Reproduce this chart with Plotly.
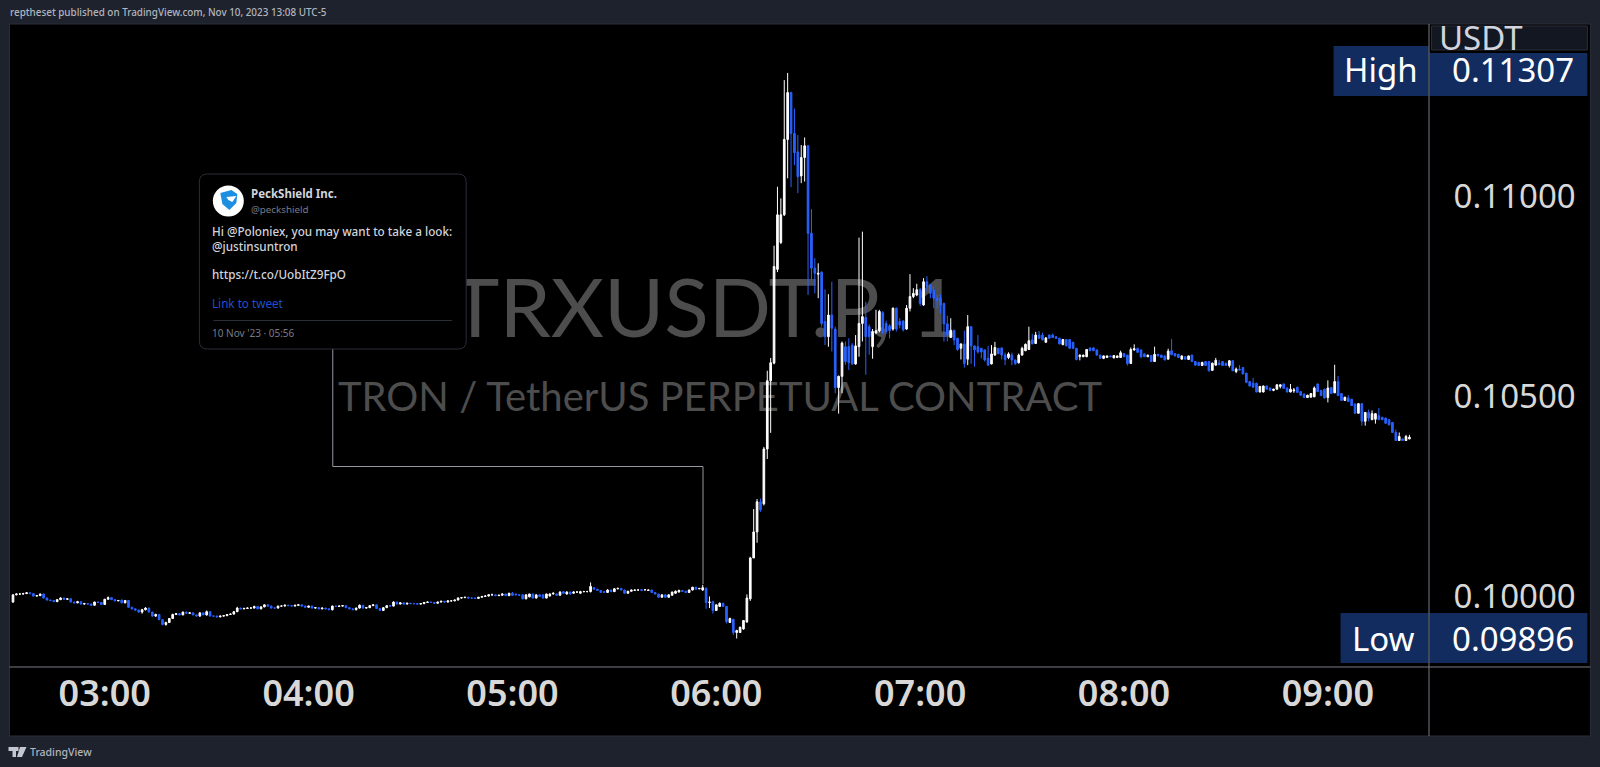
import numpy as np
import pandas as pd
import plotly.graph_objects as go

# one minute candles from TRXUSDT.P, prices in 1e-5 USDT
opens = [
    9987,10005,10007,10007,10008,10010,10008,10002,10003,10007,
    9997,9992,9991,9988,9993,9997,9994,9995,9987,
    9985,9988,9982,9983,9982,9979,9987,9986,9981,9994,
    9998,9993,9990,9992,9985,9991,9974,9970,9967,
    9962,9968,9972,9962,9952,9956,9943,9931,9936,9946,
    9956,9958,9955,9962,9959,9960,9955,9952,9960,9955,
    9963,9952,9952,9950,9952,9953,9956,9957,9963,9972,
    9970,9971,9972,9972,9976,9970,9975,9980,9977,9972,
    9972,9977,9977,9979,9978,9977,9979,9980,9977,9974,
    9977,9972,9973,9970,9972,9970,9968,9977,9976,
    9977,9978,9973,9970,9968,9972,9979,9972,9973,9978,
    9980,9971,9966,9973,9978,9977,9987,9982,9985,9982,
    9984,9983,9983,9982,9983,9986,9987,9986,9984,9987,
    9989,9987,9990,9990,9992,9997,9998,9999,9997,9997,
    9996,9999,10001,10002,10005,10005,10003,10004,
    10007,10003,10009,
    10007,10005,10005,9995,10000,10007,9997,10005,10005,9997,
    10002,10007,10007,10004,10013,10007,10012,10009,10012,10009,
    10013,10013,10013,10023,10019,10016,10013,10011,10017,10013,
    10020,10021,10017,10009,10014,10016,10017,10018,10018,10016,
    10017,10011,10007,9999,10005,9999,10004,10009,10012,10016,
    10014,10011,10017,10024,10020,10017,
    10021,9986,9988,9966,9976,9984,9976,9936,9944,9911,
    9911,9920,9937,9995,10097,10162,10237,10232,10369,10539,
    10583,10817,10884,10953,11141,11258,11156,11110,11050,11096,
    11125,10907,10820,10805,10810,10687,10649,10703,10668,10522,
    10550,10624,10624,10628,10581,10624,10682,10697,10674,10624,
    10658,10664,10709,10682,10676,10668,10720,10687,10688,10668,
    10720,10749,10753,10767,10728,10786,10778,10766,10745,10745,10732,10681,
    10647,10665,10645,10620,10631,10593,10674,10626,10624,10620,
    10616,10595,10581,10603,10620,10621,10603,10597,10603,10591,
    10584,10603,10614,10617,10641,10632,10653,10653,10635,10653,
    10653,10649,10645,10629,10642,10642,10635,10620,10599,10599,
    10599,10621,10621,10616,10603,10595,10597,10601,10596,10597,
    10597,10607,10603,10582,10616,10620,10616,10606,10599,10602,
    10587,10605,10603,10601,10593,10614,10607,10605,10593,10599,
    10592,10603,10587,10585,10577,10587,10587,10565,10578,10583,
    10587,10583,10577,10589,10562,10568,10572,10558,10537,10533,
    10533,10511,10511,10526,10521,10515,10518,10525,10531,10521,
    10511,10514,10523,10512,10506,10497,10498,10499,10531,10515,
    10518,10497,10522,10509,10537,10507,10490,10496,10493,10481,
    10458,10482,10438,10460,10442,10443,10452,10448,10446,10442,
    10435,10410,10390,10394,10390,10394,
]
highs = [
    10006,10009,10009,10010,10012,10011,10009,10004,10008,10008,
    9998,9993,9992,9994,9999,9998,9996,9996,9988,
    9990,9989,9985,9984,9983,9988,9988,9987,9995,10001,
    9999,9994,9992,9993,9992,9992,9975,9971,9968,
    9970,9974,9973,9963,9958,9957,9944,9938,9947,9958,
    9959,9960,9963,9963,9961,9961,9956,9962,9961,9966,
    9964,9953,9953,9953,9954,9957,9958,9964,9975,9973,
    9973,9974,9974,9978,9977,9976,9981,9981,9978,9973,
    9978,9978,9981,9980,9979,9980,9982,9981,9978,9978,
    9978,9974,9974,9973,9973,9971,9978,9978,9978,
    9979,9979,9974,9971,9973,9981,9980,9974,9979,9982,
    9981,9972,9974,9979,9979,9989,9988,9986,9986,9985,
    9985,9984,9984,9984,9987,9988,9988,9987,9988,9990,
    9990,9988,9991,9993,9999,9999,10000,10000,9998,9998,
    10000,10002,10004,10007,10008,10006,10005,10009,
    10008,10010,10012,
    10008,10006,10006,10006,10008,10008,10006,10006,10006,10008,
    10009,10011,10008,10014,10014,10014,10013,10014,10014,10015,
    10015,10015,10036,10024,10020,10017,10014,10019,10018,10022,
    10023,10022,10018,10015,10018,10018,10018,10019,10019,10018,
    10018,10012,10008,10006,10006,10006,10013,10016,10018,10017,
    10015,10018,10025,10025,10022,10030,
    10024,10001,9990,9981,9986,9985,9977,9948,9945,9918,
    9926,9942,10006,10100,10219,10244,10245,10374,10564,10596,
    10876,11023,10994,11289,11307,11260,11218,11152,11127,11146,
    11127,10967,10845,10832,10812,10767,10755,10786,10674,10552,
    10637,10637,10645,10633,10653,10896,10911,10736,10680,10668,
    10716,10716,10713,10689,10680,10722,10722,10695,10690,10728,
    10805,10770,10781,10770,10795,10800,10780,10774,10753,10755,10734,10701,
    10695,10665,10646,10632,10664,10703,10675,10627,10653,10621,
    10617,10626,10628,10636,10621,10622,10609,10610,10609,10592,
    10607,10624,10632,10674,10656,10661,10663,10659,10648,10655,
    10657,10650,10646,10643,10643,10643,10636,10621,10605,10604,
    10618,10622,10623,10617,10604,10602,10602,10602,10603,10602,
    10614,10608,10604,10622,10630,10621,10617,10607,10604,10603,
    10624,10606,10604,10602,10619,10643,10608,10606,10602,10600,
    10602,10604,10588,10586,10586,10588,10588,10584,10596,10591,
    10588,10584,10590,10590,10572,10578,10573,10559,10538,10546,
    10534,10526,10527,10527,10522,10519,10530,10530,10532,10522,
    10531,10521,10524,10513,10507,10504,10508,10525,10532,10516,
    10519,10540,10523,10579,10551,10508,10499,10503,10494,10482,
    10483,10483,10461,10467,10465,10458,10471,10449,10447,10443,
    10436,10417,10410,10395,10404,10404,
]
lows = [
    9985,10004,10005,10006,10007,10007,10001,10001,10002,9996,
    9991,9989,9987,9987,9992,9993,9993,9986,9984,
    9984,9981,9981,9980,9978,9978,9985,9980,9980,9993,
    9992,9989,9989,9984,9984,9973,9968,9965,9960,
    9958,9966,9961,9950,9950,9942,9929,9928,9935,9945,
    9955,9954,9954,9958,9958,9954,9951,9950,9954,9953,
    9951,9951,9949,9949,9951,9952,9955,9956,9962,9969,
    9969,9970,9971,9971,9969,9969,9974,9976,9971,9971,
    9971,9976,9976,9977,9976,9976,9978,9976,9973,9973,
    9971,9971,9969,9969,9969,9967,9966,9975,9975,
    9976,9972,9969,9967,9966,9971,9971,9971,9972,9977,
    9970,9965,9965,9972,9976,9976,9981,9981,9981,9981,
    9982,9982,9981,9981,9982,9985,9985,9983,9983,9986,
    9986,9986,9989,9989,9991,9996,9997,9996,9996,9995,
    9995,9998,10000,10001,10004,10002,10002,10003,
    10002,10002,10002,
    10004,10003,9994,9994,9999,9996,9996,10000,9996,9996,
    10001,10006,10003,10003,10008,10006,10006,10008,10010,10008,
    10012,10012,10011,10018,10015,10010,10010,10010,10012,10012,
    10019,10016,10008,10008,10013,10015,10016,10015,10015,10015,
    10010,10006,9998,9998,9998,9998,10003,10008,10011,10013,
    10010,10010,10016,10018,10019,10015,
    9970,9972,9958,9965,9975,9975,9934,9935,9905,9896,
    9910,9918,9936,9990,10097,10135,10212,10228,10344,10409,
    10580,10810,10880,10950,11044,11022,11077,11007,11032,11036,
    10753,10791,10757,10745,10674,10628,10624,10612,10508,10457,
    10508,10579,10566,10579,10579,10599,10637,10554,10604,10594,
    10655,10660,10655,10656,10645,10664,10662,10670,10662,10666,
    10712,10745,10750,10726,10726,10761,10745,10720,10720,10707,10637,10637,
    10647,10628,10614,10592,10572,10578,10581,10574,10607,10595,
    10587,10577,10580,10602,10605,10592,10578,10593,10578,10578,
    10582,10602,10613,10616,10630,10631,10644,10640,10634,10644,
    10646,10644,10630,10628,10625,10619,10618,10590,10590,10598,
    10598,10613,10613,10602,10594,10593,10596,10598,10595,10596,
    10596,10598,10577,10581,10614,10609,10595,10598,10598,10586,
    10586,10600,10596,10590,10592,10603,10600,10596,10592,10592,
    10591,10586,10577,10576,10576,10576,10562,10564,10577,10578,
    10576,10576,10572,10563,10558,10565,10555,10534,10525,10522,
    10510,10510,10510,10517,10514,10513,10517,10520,10519,10510,
    10510,10509,10509,10502,10496,10496,10497,10498,10511,10501,
    10495,10485,10506,10508,10501,10489,10489,10486,10476,10457,
    10457,10427,10427,10438,10441,10432,10441,10441,10432,10428,
    10409,10389,10389,10389,10389,10393,
]
closes = [
    10005,10007,10007,10008,10010,10008,10002,10003,10007,9997,
    9992,9991,9988,9993,9997,9994,9995,9987,9985,
    9988,9982,9983,9982,9979,9987,9986,9981,9994,9998,
    9993,9990,9991,9985,9991,9974,9970,9967,9962,
    9968,9972,9962,9952,9956,9943,9931,9936,9946,9956,
    9958,9955,9962,9959,9960,9955,9952,9960,9955,9963,
    9952,9952,9950,9952,9953,9956,9957,9963,9972,9970,
    9971,9972,9972,9976,9970,9975,9980,9977,9972,9972,
    9977,9977,9979,9978,9977,9979,9980,9977,9974,9977,
    9972,9973,9970,9972,9970,9968,9977,9976,9977,
    9978,9973,9970,9968,9972,9979,9972,9973,9978,9980,
    9971,9966,9973,9978,9977,9987,9982,9985,9982,9984,
    9983,9983,9982,9983,9986,9987,9986,9984,9987,9989,
    9987,9990,9990,9992,9997,9998,9999,9997,9997,9996,
    9999,10001,10002,10005,10005,10003,10004,10007,
    10003,10009,10004,
    10005,10004,9995,10005,10007,9997,10005,10001,9997,10007,
    10007,10009,10004,10012,10009,10012,10007,10012,10012,10013,
    10013,10013,10026,10019,10016,10011,10011,10017,10013,10020,
    10021,10017,10009,10014,10017,10017,10017,10016,10018,10017,
    10011,10007,9999,10005,9999,10005,10012,10014,10016,10014,
    10011,10017,10024,10019,10021,10023,
    9986,9987,9966,9980,9984,9976,9938,9946,9911,9916,
    9924,9941,9997,10097,10162,10237,10217,10369,10539,10584,
    10824,10953,10953,11141,11258,11156,11108,11048,11096,11125,
    10907,10820,10807,10807,10682,10649,10703,10670,10522,10550,
    10633,10587,10584,10581,10626,10682,10699,10649,10649,10662,
    10664,10712,10659,10662,10664,10720,10668,10678,10666,10720,
    10749,10757,10766,10732,10786,10774,10757,10745,10739,10728,10681,10653,
    10665,10641,10617,10631,10582,10674,10626,10616,10611,10611,
    10591,10578,10606,10622,10607,10603,10592,10606,10591,10582,
    10603,10620,10630,10639,10631,10653,10645,10641,10646,10645,
    10647,10645,10631,10642,10626,10620,10620,10592,10603,10603,
    10617,10614,10614,10603,10595,10601,10601,10599,10602,10601,
    10609,10599,10582,10617,10619,10610,10599,10599,10603,10587,
    10605,10601,10597,10591,10613,10604,10601,10597,10601,10593,
    10601,10587,10578,10577,10585,10577,10564,10583,10590,10579,
    10577,10577,10589,10564,10568,10566,10556,10535,10526,10523,
    10511,10525,10526,10518,10515,10518,10529,10529,10520,10511,
    10518,10516,10510,10503,10497,10503,10507,10521,10512,10502,
    10496,10521,10507,10537,10502,10490,10498,10487,10477,10458,
    10482,10438,10460,10446,10457,10457,10442,10442,10433,10429,
    10410,10390,10400,10390,10400,10398,
]

first_candle = "2023-11-10 02:33"
hour_ticks = ["2023-11-10 03:00", "2023-11-10 04:00", "2023-11-10 05:00", "2023-11-10 06:00",
              "2023-11-10 07:00", "2023-11-10 08:00", "2023-11-10 09:00"]
hour_labels = ["03:00", "04:00", "05:00", "06:00", "07:00", "08:00", "09:00"]
price_ticks = [0.10, 0.105, 0.11]

tweet_lines = ["Hi @Poloniex, you may want to take a look:", "@justinsuntron", "https://t.co/UobItZ9FpO"]

UP = "#ffffff"
DOWN = "#2962ff"
PANEL = "#1e222d"
LABEL_BG = "#132c60"
AXIS_TEXT = "#d8d8d8"
FONT = "Noto Sans"

# plot area in page pixels
L, R, T, B = 9.5, 1429.5, 24.0, 667.0
W, H = 1600, 767


def fx(px):
    return (px - L) / (R - L)


def fy(py):
    return (B - py) / (B - T)


times = pd.date_range(first_candle, periods=len(closes), freq="min")
to_price = lambda a: np.array(a) / 1e5

fig = go.Figure(go.Candlestick(
    x=times,
    open=to_price(opens), high=to_price(highs), low=to_price(lows), close=to_price(closes),
    increasing=dict(line=dict(color=UP, width=1), fillcolor=UP),
    decreasing=dict(line=dict(color=DOWN, width=1), fillcolor=DOWN),
    whiskerwidth=0,
    hoverinfo="skip",
))


def box(x0, y0, x1, y1, fill, line=None, layer="above", label=None):
    s = dict(type="rect", xref="paper", yref="paper", x0=fx(x0), x1=fx(x1), y0=fy(y0), y1=fy(y1),
             fillcolor=fill, line=dict(color=line or fill, width=1 if line else 0), layer=layer)
    if label:
        s["label"] = label
    return s


def hline(x0, x1, y, color, layer="above"):
    return dict(type="line", xref="paper", yref="paper", x0=fx(x0), x1=fx(x1), y0=fy(y), y1=fy(y),
                line=dict(color=color, width=1), layer=layer)


def vline(x, y0, y1, color, layer="above"):
    return dict(type="line", xref="paper", yref="paper", x0=fx(x), x1=fx(x), y0=fy(y0), y1=fy(y1),
                line=dict(color=color, width=1), layer=layer)


def path(points, fill, close=True, layer="above"):
    d = "M " + " L ".join(f"{fx(a):.5f},{fy(b):.5f}" for a, b in points) + (" Z" if close else "")
    return dict(type="path", xref="paper", yref="paper", path=d, fillcolor=fill, line=dict(width=0), layer=layer)


def rounded(x0, y0, x1, y1, r):
    a, b, c, d = fx(x0), fx(x1), fy(y0), fy(y1)
    rx, ry = r / (R - L), r / (B - T)
    return (f"M {a+rx:.5f},{c:.5f} L {b-rx:.5f},{c:.5f} Q {b:.5f},{c:.5f} {b:.5f},{c-ry:.5f} "
            f"L {b:.5f},{d+ry:.5f} Q {b:.5f},{d:.5f} {b-rx:.5f},{d:.5f} L {a+rx:.5f},{d:.5f} "
            f"Q {a:.5f},{d:.5f} {a:.5f},{d+ry:.5f} L {a:.5f},{c-ry:.5f} Q {a:.5f},{c:.5f} {a+rx:.5f},{c:.5f} Z")


watermark = "#4d4d4d"
shapes = [
    # chart panes
    box(9, 24, 1591, 736, "#000000", line="#2a2e39", layer="below"),
    # watermark sits under the candles, so it goes on shape labels
    box(390, 250, 1020, 358, "rgba(0,0,0,0)", layer="below",
        label=dict(text="TRXUSDT.P, 1", font=dict(family="Lato", size=82, color=watermark), textposition="middle center")),
    box(300, 367, 1140, 422, "rgba(0,0,0,0)", layer="below",
        label=dict(text="TRON / TetherUS PERPETUAL CONTRACT", font=dict(family="Lato", size=40, color=watermark),
                   textposition="middle center")),
    # line from the tweet card to its candle
    vline(332.5, 349, 466.5, "#9598a1", layer="below"),
    hline(332.5, 703, 466.5, "#9598a1", layer="below"),
    vline(703, 466.5, 584, "#9598a1", layer="below"),
    # tweet card
    dict(type="path", xref="paper", yref="paper", path=rounded(199, 174, 466, 349, 8), fillcolor="#000000",
         line=dict(color="#2a2e39", width=1), layer="above"),
    hline(213, 452, 320.5, "#2a2e39"),
    dict(type="circle", xref="paper", yref="paper", x0=fx(212.5), x1=fx(243.5), y0=fy(185.5), y1=fy(216.5),
         fillcolor="#ffffff", line=dict(width=0)),
    path([(220, 193), (231, 190), (237, 194), (236, 203), (229, 210), (222, 204)], "#1d8fe1"),
    path([(226, 197), (236, 196), (232, 202), (228, 200)], "#ffffff"),
    # axis labels
    box(1432, 26, 1588, 50, "#131722", line="#2a2e39"),
    box(1334, 46, 1429, 96, LABEL_BG),
    box(1430, 53, 1588, 96, LABEL_BG),
    box(1341, 613, 1429, 663, LABEL_BG),
    box(1430, 613, 1588, 663, LABEL_BG),
    # pane separators
    vline(1429.5, 24, 736, "#787b86"),
    hline(9, 1591, 667, "#787b86"),
    # logo
    path([(8, 747), (18, 747), (18, 751), (15.5, 751), (15.5, 757), (12, 757), (12, 751), (8, 751)], "#c4c7cf"),
    path([(19.5, 747), (26, 747), (21.5, 757), (16.5, 757)], "#c4c7cf"),
]


def note(px, py, text, size, color, anchor="left", weight=None, family=FONT):
    return dict(xref="paper", yref="paper", x=fx(px), y=fy(py), text=text, showarrow=False, xanchor=anchor,
                yanchor="middle", align=anchor, font=dict(family=family, size=size, color=color, weight=weight))


annotations = [
    note(7, 12, "reptheset published on TradingView.com, Nov 10, 2023 13:08 UTC-5", 9.9, "#b2b5be", weight=500),
    note(28, 752, "TradingView", 10.5, "#b2b5be", weight=500),
    note(1438, 38, "USDT", 33, "#d1d4dc"),
    note(1381, 70, "High", 33, "#ffffff", "center"),
    note(1514, 70, "0.11307", 33, "#ffffff", "center"),
    note(1384, 638, "Low", 33, "#ffffff", "center"),
    note(1514, 638, "0.09896", 33, "#ffffff", "center"),
    note(249, 194, "PeckShield Inc.", 11.5, "#d1d4dc", weight=700),
    note(249, 209, "@peckshield", 9.8, "#787b86"),
    note(210, 231, tweet_lines[0], 11.7, "#d1d4dc", weight=500),
    note(210, 245.5, tweet_lines[1], 11.7, "#d1d4dc", weight=500),
    note(210, 274, tweet_lines[2], 11.7, "#d1d4dc", weight=500),
    note(210, 303, "Link to tweet", 11.7, "#1f4fd0"),
    note(210, 333, "10 Nov '23 · 05:56", 10, "#787b86"),
]

# candle 0 is drawn at 12.5px and candles are 3.4px apart
px_per_min = 3.4
t0 = pd.Timestamp(first_candle)
x_start = t0 + pd.Timedelta(minutes=(L - 12.5) / px_per_min)
x_end = t0 + pd.Timedelta(minutes=(R - 12.5) / px_per_min)

fig.update_layout(
    width=W, height=H,
    margin=dict(l=L, r=W - R, t=T, b=H - B, pad=0),
    paper_bgcolor=PANEL, plot_bgcolor="rgba(0,0,0,0)",
    showlegend=False, hovermode=False,
    shapes=shapes, annotations=annotations,
    xaxis=dict(type="date", range=[x_start, x_end], rangeslider=dict(visible=False),
               tickmode="array", tickvals=hour_ticks, ticktext=hour_labels, showgrid=False, zeroline=False,
               showline=False, ticks="", ticklabelstandoff=2,
               tickfont=dict(family=FONT, size=36, color=AXIS_TEXT, weight=600)),
    yaxis=dict(side="right", range=[0.09825, 0.11429], tickmode="array", tickvals=price_ticks, tickformat=".5f",
               showgrid=False, zeroline=False, showline=False, ticks="outside", ticklen=17,
               tickcolor="rgba(0,0,0,0)", tickfont=dict(family=FONT, size=33, color=AXIS_TEXT)),
)

fig.write_html("out.html", config=dict(displayModeBar=False),
               post_script="document.body.style.margin='0';document.body.style.overflow='hidden';")
